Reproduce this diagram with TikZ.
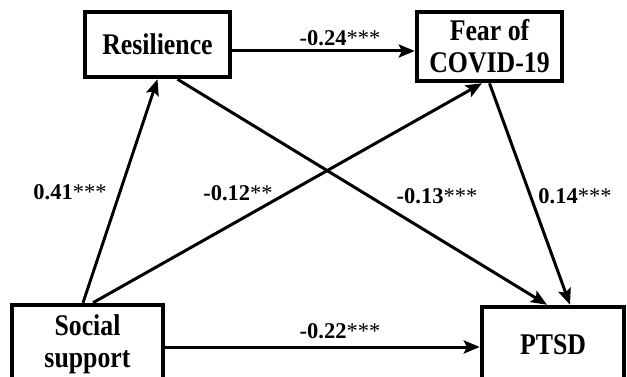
\documentclass[tikz,border=0pt]{standalone}
\usepackage{fontspec}
\setmainfont{Liberation Serif}
\newfontfamily\boxfont[FakeStretch=0.86]{Liberation Serif}
\usetikzlibrary{arrows.meta}
\begin{document}
\begin{tikzpicture}[x=1pt, y=-1pt,
        varbox/.style={draw, line width=4.5pt, inner sep=0pt, align=center, font=\boxfont\fontsize{30}{32}\selectfont\bfseries},
        coef/.style={font=\fontsize{22.5}{26}\selectfont\bfseries},
        arr/.style={line width=3pt, -{Stealth[length=16pt, width=13pt, inset=3pt]}}]
    \useasboundingbox (0, 0) rectangle (627, 377);
    \clip (0, 0) rectangle (627, 377);
    \node[varbox, minimum width=145pt, minimum height=65pt] (res) at (157.5, 44.5) {Resilience};
    \node[varbox, minimum width=145pt, minimum height=69pt] (fear) at (489.5, 46.5) {Fear of\\COVID-19};
    \node[varbox, minimum width=151pt, minimum height=78pt] (soc) at (87.5, 344) {Social\\support};
    \node[varbox, minimum width=142pt, minimum height=76pt] (ptsd) at (553, 345) {PTSD};
    \draw[arr] ([yshift=-6.5pt]res.east) -- ([yshift=-6.5pt]res.east -| fear.west);
    \draw[arr] ([xshift=-4.5pt]soc.north) -- (res.south);
    \draw[arr] ([xshift=5.5pt]soc.north) -- ([xshift=-7.5pt]fear.south);
    \draw[arr] ([xshift=20pt]res.south) -- ([xshift=-6pt]ptsd.north);
    \draw[arr] (fear.south) -- ([xshift=17pt]ptsd.north);
    \draw[arr] ([yshift=-3pt]soc.east) -- ([yshift=-3pt]soc.east -| ptsd.west);
    \node[coef] (c1) at (340, 38) {-0.24{\mdseries***}};
    \node[coef] (c2) at (70, 192) {0.41{\mdseries***}};
    \node[coef] (c3) at (238, 193) {-0.12{\mdseries**}};
    \node[coef] (c4) at (437, 196) {-0.13{\mdseries***}};
    \node[coef] (c5) at (575, 196) {0.14{\mdseries***}};
    \node[coef] (c6) at (340, 331) {-0.22{\mdseries***}};
\end{tikzpicture}
\end{document}
